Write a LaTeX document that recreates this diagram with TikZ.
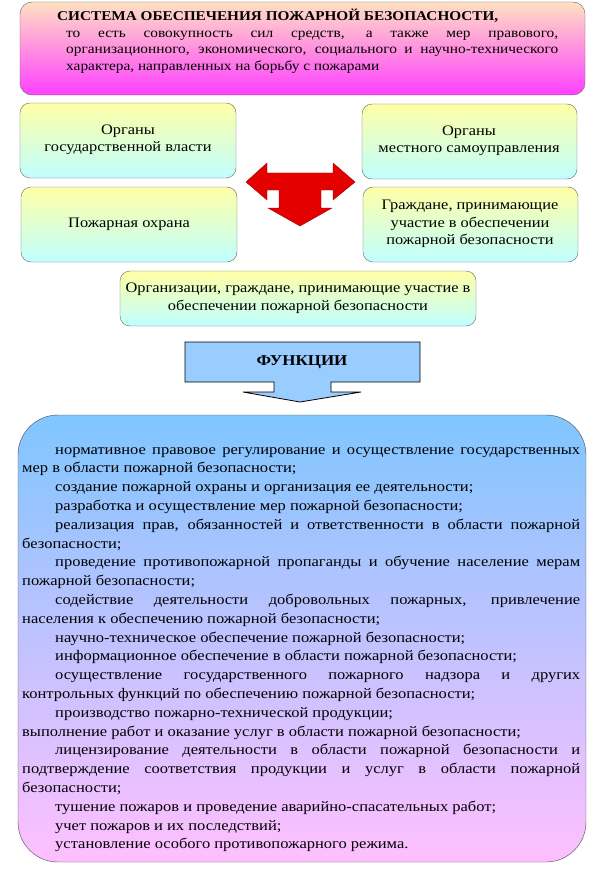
\documentclass[tikz,border=0pt]{standalone}
\usepackage{fontspec}
\setmainfont[FakeStretch=1.13]{Liberation Serif}
\definecolor{funcblue}{HTML}{99CCFF}
\begin{document}
\begin{tikzpicture}[x=1pt,y=-1pt,
  gbox/.style={draw=black!60,rounded corners=10pt,top color=yellow!35!white,bottom color=cyan!25!white},
  txt/.style={align=center,font=\fontsize{14.5}{17.5}\selectfont}]
\useasboundingbox (0,0) rectangle (600,869);
\fill[white] (0,0) rectangle (600,869);
% top
\draw[draw=black!60,rounded corners=12pt,top color=yellow!20!pink!60!white,bottom color=magenta!75!white] (20,2) rectangle (585,95);
\node[anchor=north west,inner sep=0pt] (title) at (66,9) {\parbox{492pt}{\fontsize{13.6}{16.5}\selectfont\emergencystretch=20pt
\hspace*{-9pt}\textbf{\fontsize{13.5}{16.5}\selectfont СИСТЕМА ОБЕСПЕЧЕНИЯ ПОЖАРНОЙ БЕЗОПАСНОСТИ,}\\
то есть совокупность сил средств, а также мер правового,\linebreak организационного, экономического, социального и научно-технического\linebreak характера, направленных на борьбу с пожарами}};
% boxes
\draw[gbox] (20,103) rectangle (236,178); \node[txt] (a) at (128,140) {Органы\\государственной власти};
\draw[gbox] (21,187) rectangle (237,262); \node[txt] (b) at (129,224) {Пожарная охрана};
\draw[gbox] (362,104) rectangle (577,179); \node[txt] (c) at (469,141) {Органы\\местного самоуправления};
\draw[gbox] (363,187) rectangle (578,262); \node[txt] (d) at (470,224) {Граждане, принимающие\\участие в обеспечении\\пожарной безопасности};
\draw[gbox] (120,271) rectangle (476,326); \node[txt] (e) at (298,298) {Организации, граждане, принимающие участие в\\обеспечении пожарной безопасности};
% red arrow
\draw[draw=red!60!black,fill=red!90!black,line join=round]
 (246,182) -- (267,163) -- (267,173) -- (333,173) -- (333,163) -- (355,182) -- (333,200) -- (333,190)
 -- (321,190) -- (321,208) -- (332,208) -- (300,226) -- (268,208) -- (279,208) -- (279,190)
 -- (267,190) -- (267,200) -- cycle;
% big box
\draw[draw=black!70,rounded corners=40pt,top color=blue!45!cyan!50!white,bottom color=magenta!25!white] (18,415) rectangle (586,862);
% functions arrow
\draw[thick,fill=funcblue] (185,342) -- (420,342) -- (420,382) -- (331,382) -- (331,392) -- (361,392)
 -- (300,402) -- (243,392) -- (274,392) -- (274,382) -- (185,382) -- cycle;
\node[font=\bfseries\fontsize{15}{17}\selectfont] (f) at (302,362) {ФУНКЦИИ};
\node[anchor=north west,inner sep=0pt] (g) at (22,447) {\parbox{558pt}{\fontsize{14.6}{18.8}\selectfont\parindent=33pt\emergencystretch=30pt
нормативное правовое регулирование и осуществление государственных\linebreak мер в области пожарной безопасности;\par
создание пожарной охраны и организация ее деятельности;\par
разработка и осуществление мер пожарной безопасности;\par
реализация прав, обязанностей и ответственности в области пожарной\linebreak безопасности;\par
проведение противопожарной пропаганды и обучение население мерам\linebreak пожарной безопасности;\par
содействие деятельности добровольных пожарных, привлечение\linebreak населения к обеспечению пожарной безопасности;\par
научно-техническое обеспечение пожарной безопасности;\par
информационное обеспечение в области пожарной безопасности;\par
осуществление государственного пожарного надзора и других\linebreak контрольных функций по обеспечению пожарной безопасности;\par
производство пожарно-технической продукции;\par
\noindent выполнение работ и оказание услуг в области пожарной безопасности;\par
лицензирование деятельности в области пожарной безопасности и\linebreak подтверждение соответствия продукции и услуг в области пожарной\linebreak безопасности;\par
тушение пожаров и проведение аварийно-спасательных работ;\par
учет пожаров и их последствий;\par
установление особого противопожарного режима.}};
\end{tikzpicture}
\end{document}
